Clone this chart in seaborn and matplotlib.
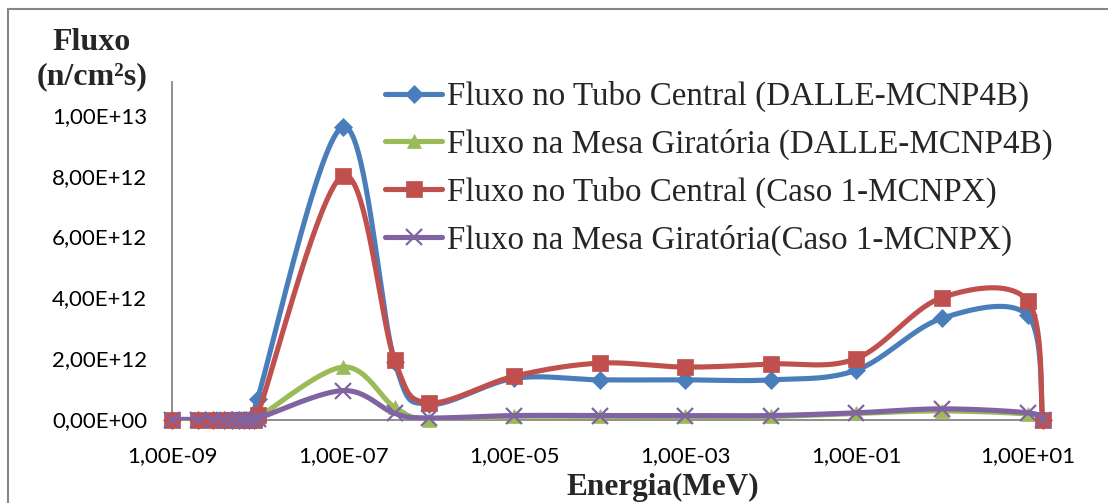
import numpy as np
import pandas as pd
import matplotlib
matplotlib.use("Agg")
import matplotlib.pyplot as plt
import seaborn as sns
from matplotlib.lines import Line2D
from matplotlib.patches import Rectangle

# ---------------- data ----------------
energia = [1e-9, 2e-9, 3e-9, 4e-9, 5e-9, 6e-9, 7e-9, 8e-9, 9e-9, 1e-8,
           1e-7, 4e-7, 1e-6, 1e-5, 1e-4, 1e-3, 1e-2, 1e-1, 1.0, 10.0, 15.0]
tubo_dalle = [0, 0, 0, 0, 0, 0, 0, 0, 0, 0.68e12,
              9.6e12, 1.9e12, 0.5e12, 1.35e12, 1.3e12, 1.3e12, 1.3e12, 1.62e12, 3.32e12, 3.42e12, 0]
mesa_dalle = [0, 0, 0, 0, 0, 0, 0, 0, 0, 0.05e12,
              1.72e12, 0.4e12, 0.0, 0.1e12, 0.1e12, 0.1e12, 0.1e12, 0.2e12, 0.28e12, 0.18e12, 0]
tubo_caso1 = [0, 0, 0, 0, 0, 0, 0, 0, 0, 0.15e12,
              8.0e12, 1.95e12, 0.55e12, 1.42e12, 1.85e12, 1.72e12, 1.82e12, 2.0e12, 4.0e12, 3.9e12, 0]
mesa_caso1 = [0, 0, 0, 0, 0, 0, 0, 0, 0, 0.03e12,
              0.95e12, 0.2e12, 0.05e12, 0.13e12, 0.13e12, 0.13e12, 0.13e12, 0.22e12, 0.35e12, 0.22e12, 0]

series_labels = ["Fluxo no Tubo Central (DALLE-MCNP4B)",
                 "Fluxo na Mesa Giratória (DALLE-MCNP4B)",
                 "Fluxo no Tubo Central (Caso 1-MCNPX)",
                 "Fluxo na Mesa Giratória(Caso 1-MCNPX)"]
x_ticks = [1e-9, 1e-7, 1e-5, 1e-3, 1e-1, 1e1]
x_ticklabels = ["1,00E-09", "1,00E-07", "1,00E-05", "1,00E-03", "1,00E-01", "1,00E+01"]
y_ticks = [0, 2e12, 4e12, 6e12, 8e12, 1e13]
y_ticklabels = ["0,00E+00", "2,00E+12", "4,00E+12", "6,00E+12", "8,00E+12", "1,00E+13"]

# ---------------- style ----------------
sns.set_theme(style="white")
plt.rcParams['font.family'] = ['Lato', 'DejaVu Sans']

colors = ["#4A7EBB", "#9BBB59", "#C0504D", "#8064A2"]
markers = ["D", "^", "s", "x"]
msizes = [9, 10.5, 11, 11]
series = [tubo_dalle, mesa_dalle, tubo_caso1, mesa_caso1]


def smooth(xs, ys, n=40):
    """Excel-like smoothed curve (Bezier/Catmull-Rom in log-x space)."""
    lx = np.log10(np.asarray(xs, float))
    y = np.asarray(ys, float)
    P = np.column_stack([lx, y])
    out = []
    m = len(P)
    for i in range(m - 1):
        p0 = P[i - 1] if i > 0 else P[i]
        p1 = P[i]
        p2 = P[i + 1]
        p3 = P[i + 2] if i + 2 < m else P[i + 1]
        c1 = p1 + (p2 - p0) / 6.0
        c2 = p2 - (p3 - p1) / 6.0
        t = np.linspace(0, 1, n)[:, None]
        seg = ((1 - t) ** 3) * p1 + 3 * ((1 - t) ** 2) * t * c1 + 3 * (1 - t) * t ** 2 * c2 + t ** 3 * p2
        out.append(seg if i == 0 else seg[1:])
    seg = np.vstack(out)
    return 10 ** seg[:, 0], seg[:, 1]


fig = plt.figure(figsize=(11.08, 5.03), dpi=100)
ax = fig.add_axes([172 / 1108, 1 - 419.5 / 503, (1045 - 172) / 1108, (419.5 - 82) / 503])

for i, (ys, c, mk, ms, lab) in enumerate(zip(series, colors, markers, msizes, series_labels)):
    sx, sy = smooth(energia, ys)
    sns.lineplot(x=sx, y=sy, sort=False, estimator=None, color=c, linewidth=3.7,
                 ax=ax, zorder=3 + i)
    ax.plot(energia, ys, linestyle="none", marker=mk, markersize=ms, color=c,
            markeredgecolor=c, markeredgewidth=1.6 if mk == "x" else 0.5,
            zorder=3 + i, clip_on=False)

ax.set_xscale("log")
ax.set_xlim(1e-9, 1.6e1)
ax.set_ylim(0, 1.107e13)
ax.set_xticks(x_ticks)
ax.set_xticklabels(x_ticklabels)
ax.xaxis.set_minor_locator(matplotlib.ticker.NullLocator())
ax.set_yticks(y_ticks)
ax.set_yticklabels(y_ticklabels)
ax.tick_params(axis="both", labelsize=16, colors="#868686", labelcolor="black")
ax.tick_params(axis="y", direction="inout", length=16, width=1.2, pad=10)
ax.tick_params(axis="x", direction="out", length=7, width=1.2, pad=12)
ax.set_xlabel("")
ax.set_ylabel("")
for s in ["top", "right"]:
    ax.spines[s].set_visible(False)
for s in ["left", "bottom"]:
    ax.spines[s].set_color("#868686")
    ax.spines[s].set_linewidth(1.3)
ax.set_facecolor("white")

# legend
handles = [Line2D([0], [0], color=c, linewidth=3.7, marker=mk, markersize=ms,
                  markeredgewidth=1.6 if mk == "x" else 0.5, markeredgecolor=c)
           for c, mk, ms in zip(colors, markers, msizes)]
leg = ax.legend(handles, series_labels, loc="upper left", bbox_to_anchor=(372 / 1108, 1 - 68 / 503),
                bbox_transform=fig.transFigure, frameon=False, handlelength=1.72, handletextpad=0.15,
                labelspacing=0.5, borderaxespad=0, prop={"family": "Liberation Serif", "size": 23.8})

# axis titles
fig.text(92 / 1108, 1 - 42 / 503, "Fluxo", ha="center", va="center",
         family="Liberation Serif", weight="bold", size=23)
fig.text(92 / 1108, 1 - 77 / 503, "(n/cm²s)", ha="center", va="center",
         family="Liberation Serif", weight="bold", size=23)
fig.text(663 / 1108, 1 - 487 / 503, "Energia(MeV)", ha="center", va="center",
         family="Liberation Serif", weight="bold", size=22.5)

# outer chart border
fig.patches.append(Rectangle((8 / 1108, -0.05), 1.2, 1 - 9 / 503 + 0.05, transform=fig.transFigure,
                             fill=False, edgecolor="#868686", linewidth=1.5, zorder=0))

fig.savefig("out.png", dpi=100, facecolor="white")
